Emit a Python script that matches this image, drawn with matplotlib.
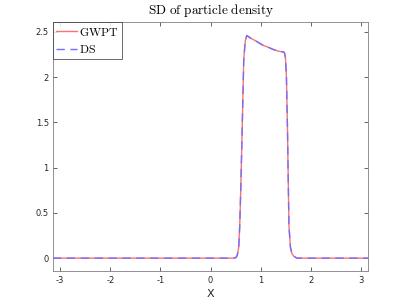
import numpy as np
import matplotlib
matplotlib.use("Agg")
import matplotlib.pyplot as plt

plt.rcParams['mathtext.fontset'] = 'cm'

# Data
x_gwpt = [-3.1416, 0.45, 0.50, 0.53, 0.56, 0.58, 0.60, 0.63, 0.66, 0.69, 0.72,
          0.80, 0.90, 0.96, 1.05, 1.15, 1.23, 1.33, 1.42, 1.45, 1.47, 1.49,
          1.51, 1.53, 1.56, 1.59, 1.62, 1.66, 1.72, 3.1416]
y_gwpt = [0.0, 0.0, 0.005, 0.03, 0.12, 0.36, 0.75, 1.46, 2.2, 2.4, 2.46,
          2.43, 2.40, 2.38, 2.35, 2.33, 2.31, 2.29, 2.28, 2.28, 2.27, 2.22,
          2.0, 1.46, 0.36, 0.12, 0.05, 0.02, 0.0, 0.0]
x_ds = x_gwpt
y_ds = y_gwpt

xticks = [-3, -2, -1, 0, 1, 2, 3]
yticks = [0, 0.5, 1, 1.5, 2, 2.5]
ytick_labels = ['0', '0.5', '1', '1.5', '2', '2.5']

fig = plt.figure(figsize=(4.07, 3.05), dpi=100)
ax = fig.add_axes([0.13, 0.11, 0.775, 0.818])

ax.plot(x_gwpt, y_gwpt, color='#ff7070', lw=1.0, label=r'$\mathrm{GWPT}$')
ax.plot(x_ds, y_ds, color='#7070ff', lw=1.0, ls=(0, (6, 4)), label=r'$\mathrm{DS}$')

ax.set_xlim(-np.pi, np.pi)
ax.set_ylim(-0.147, 2.61)
ax.set_xticks(xticks)
ax.set_xticklabels([str(t) for t in xticks])
ax.set_yticks(yticks)
ax.set_yticklabels(ytick_labels)

ax.tick_params(direction='in', length=3, width=0.5, labelsize=6, colors='#262626',
               top=True, right=True, pad=3)
for s in ax.spines.values():
    s.set_color('#808080')
    s.set_linewidth(0.6)

ax.set_xlabel('X', fontsize=8, color='#262626', labelpad=3)
ax.set_title(r'$\mathrm{SD\ of\ particle\ density}$', fontsize=9.5, pad=6)

leg = ax.legend(loc='upper left', fontsize=8.5, frameon=True, fancybox=False,
                borderaxespad=0.0, handlelength=1.7, borderpad=0.3,
                labelspacing=0.35, handletextpad=0.25)
leg.get_frame().set_edgecolor('#262626')
leg.get_frame().set_linewidth(0.6)

fig.savefig('out.png', dpi=100)
